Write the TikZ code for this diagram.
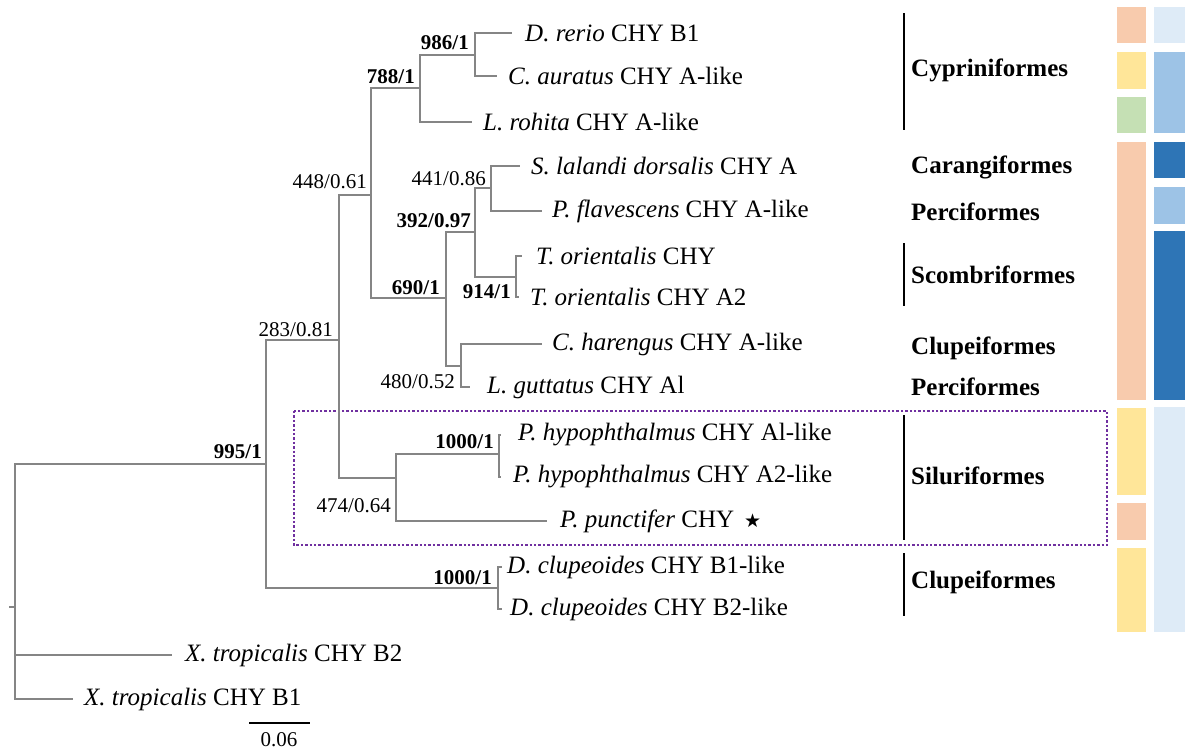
\documentclass[tikz,border=0pt]{standalone}
\usepackage{fontspec}
\setmainfont{Liberation Serif}
\newfontfamily\starfont{DejaVu Sans}
\usetikzlibrary{positioning}

\definecolor{branchgray}{HTML}{858585}
\definecolor{boxpurple}{HTML}{7030A0}
\definecolor{peach}{HTML}{F8CBAD}
\definecolor{sand}{HTML}{FFE699}
\definecolor{sage}{HTML}{C5E0B4}
\definecolor{paleblue}{HTML}{DEEBF7}
\definecolor{midblue}{HTML}{9DC3E6}
\definecolor{deepblue}{HTML}{2E75B6}

\begin{document}
\begin{tikzpicture}[
    x=1pt, y=-1pt,
    branch/.style={draw=branchgray, line width=1.8pt},
    leaf/.style={inner sep=0pt, font=\fontsize{25}{29}\selectfont},
    support/.style={inner sep=0pt, anchor=east, font=\fontsize{21}{24}\selectfont},
    strong/.style={inner sep=0pt, anchor=east, font=\fontsize{21}{24}\selectfont\bfseries},
    clade/.style={inner sep=0pt, anchor=west, font=\fontsize{25}{29}\selectfont\bfseries},
    cladebar/.style={line width=2.6pt},
    silubox/.style={draw=boxpurple, line width=2.8pt, dash pattern=on 2.4pt off 2pt}
]
\useasboundingbox (0,0) rectangle (1185,753);

% Siluriformes box
\draw[silubox] (294,411) rectangle (1107,545);

% Internal nodes
\coordinate (stub) at (9,607);
\coordinate (root) at (15,607);
\coordinate (n995) at (266,464);
\coordinate (n283) at (339,340);
\coordinate (n448) at (371,195);
\coordinate (n788) at (420,88);
\coordinate (n986) at (475,55);
\coordinate (n690) at (446,298);
\coordinate (n392) at (475,232);
\coordinate (n441) at (491,188);
\coordinate (n914) at (516,277);
\coordinate (n480) at (461,366);
\coordinate (n474) at (396,478);
\coordinate (nhypo) at (499,454);
\coordinate (nclup) at (498,588);

% Tips
\coordinate (tDrerio) at (512,33);
\coordinate (tCaur) at (497,76);
\coordinate (tLroh) at (472,122);
\coordinate (tSlal) at (520,166);
\coordinate (tPflav) at (542,211);
\coordinate (tTori) at (522,256);
\coordinate (tToriA) at (519,297);
\coordinate (tChar) at (542,344);
\coordinate (tLgut) at (470,387);
\coordinate (tPhypA) at (501,435);
\coordinate (tPhypB) at (501,477);
\coordinate (tPpun) at (547,521);
\coordinate (tDclupA) at (502,567);
\coordinate (tDclupB) at (502,609);
\coordinate (tXtropA) at (172,655);
\coordinate (tXtropB) at (73,699);

% Branches
\draw[branch] (stub) -- (root);
\draw[branch] (root) |- (n995);
\draw[branch] (root) |- (tXtropA);
\draw[branch] (root) |- (tXtropB);
\draw[branch] (n995) |- (n283);
\draw[branch] (n995) |- (nclup);
\draw[branch] (n283) |- (n448);
\draw[branch] (n283) |- (n474);
\draw[branch] (n448) |- (n788);
\draw[branch] (n448) |- (n690);
\draw[branch] (n788) |- (n986);
\draw[branch] (n788) |- (tLroh);
\draw[branch] (n986) |- (tDrerio);
\draw[branch] (n986) |- (tCaur);
\draw[branch] (n690) |- (n392);
\draw[branch] (n690) |- (n480);
\draw[branch] (n392) |- (n441);
\draw[branch] (n392) |- (n914);
\draw[branch] (n441) |- (tSlal);
\draw[branch] (n441) |- (tPflav);
\draw[branch] (n914) |- (tTori);
\draw[branch] (n914) |- (tToriA);
\draw[branch] (n480) |- (tChar);
\draw[branch] (n480) |- (tLgut);
\draw[branch] (n474) |- (nhypo);
\draw[branch] (n474) |- (tPpun);
\draw[branch] (nhypo) |- (tPhypA);
\draw[branch] (nhypo) |- (tPhypB);
\draw[branch] (nclup) |- (tDclupA);
\draw[branch] (nclup) |- (tDclupB);

% Leaf labels
\node[leaf, right=13pt of tDrerio] (lDrerio) {\textit{D. rerio} CHY B1};
\node[leaf, right=11pt of tCaur] (lCaur) {\textit{C. auratus} CHY A-like};
\node[leaf, right=11pt of tLroh] (lLroh) {\textit{L. rohita} CHY A-like};
\node[leaf, right=11pt of tSlal] (lSlal) {\textit{S. lalandi dorsalis} CHY A};
\node[leaf, right=10pt of tPflav] (lPflav) {\textit{P. flavescens} CHY A-like};
\node[leaf, right=14pt of tTori] (lTori) {\textit{T. orientalis} CHY};
\node[leaf, right=11pt of tToriA] (lToriA) {\textit{T. orientalis} CHY A2};
\node[leaf, right=10pt of tChar] (lChar) {\textit{C. harengus} CHY A-like};
\node[leaf, right=17pt of tLgut] (lLgut) {\textit{L. guttatus} CHY Al};
\node[leaf, right=17pt of tPhypA] (lPhypA) {\textit{P. hypophthalmus} CHY Al-like};
\node[leaf, right=12pt of tPhypB] (lPhypB) {\textit{P. hypophthalmus} CHY A2-like};
\node[leaf, right=13pt of tPpun] (lPpun) {\textit{P. punctifer} CHY\hspace{0.4em}{\starfont\fontsize{19}{20}\selectfont ★}};
\node[leaf, right=5pt of tDclupA] (lDclupA) {\textit{D. clupeoides} CHY B1-like};
\node[leaf, right=8pt of tDclupB] (lDclupB) {\textit{D. clupeoides} CHY B2-like};
\node[leaf, right=13pt of tXtropA] (lXtropA) {\textit{X. tropicalis} CHY B2};
\node[leaf, right=11pt of tXtropB] (lXtropB) {\textit{X. tropicalis} CHY B1};

% Support values
\node[strong] (s986) at (469,43) {986/1};
\node[strong] (s788) at (415,77) {788/1};
\node[support] (s448) at (367,182) {448/0.61};
\node[support] (s441) at (486,179) {441/0.86};
\node[strong] (s392) at (471,221) {392/0.97};
\node[strong] (s690) at (440,288) {690/1};
\node[strong] (s914) at (511,292) {914/1};
\node[support] (s283) at (333,330) {283/0.81};
\node[support] (s480) at (455,382) {480/0.52};
\node[strong] (s995) at (262,452) {995/1};
\node[support] (s474) at (391,506) {474/0.64};
\node[strong] (shypo) at (494,442) {1000/1};
\node[strong] (sclup) at (492,578) {1000/1};

% Orders
\draw[cladebar] (904,13) -- (904,130);
\draw[cladebar] (904,243) -- (904,306);
\draw[cladebar] (904,415) -- (904,540);
\draw[cladebar] (904,553) -- (904,616);
\node[clade] (oCyp) at (911,70) {Cypriniformes};
\node[clade] (oCar) at (911,167) {Carangiformes};
\node[clade] (oPer) at (911,212) {Perciformes};
\node[clade] (oSco) at (911,275) {Scombriformes};
\node[clade] (oClu) at (911,348) {Clupeiformes};
\node[clade] (oPerB) at (911,387) {Perciformes};
\node[clade] (oSil) at (911,476) {Siluriformes};
\node[clade] (oCluB) at (911,582) {Clupeiformes};

% Colour columns
\fill[peach] (1117,7) rectangle (1146,43);
\fill[sand] (1117,52) rectangle (1146,89);
\fill[sage] (1117,97) rectangle (1146,133);
\fill[peach] (1117,142) rectangle (1146,400);
\fill[sand] (1117,408) rectangle (1146,495);
\fill[peach] (1117,503) rectangle (1146,540);
\fill[sand] (1117,548) rectangle (1146,632);
\fill[paleblue] (1154,7) rectangle (1185,43);
\fill[midblue] (1154,52) rectangle (1185,133);
\fill[deepblue] (1154,142) rectangle (1185,178);
\fill[midblue] (1154,187) rectangle (1185,224);
\fill[deepblue] (1154,231) rectangle (1185,400);
\fill[paleblue] (1154,407) rectangle (1185,632);

% Scale bar
\coordinate (sbL) at (249,723);
\coordinate (sbR) at (310,723);
\draw[line width=1.4pt] (sbL) -- (sbR);
\node[support, anchor=center] (sbLabel) at (279,740) {0.06};

\end{tikzpicture}
\end{document}
